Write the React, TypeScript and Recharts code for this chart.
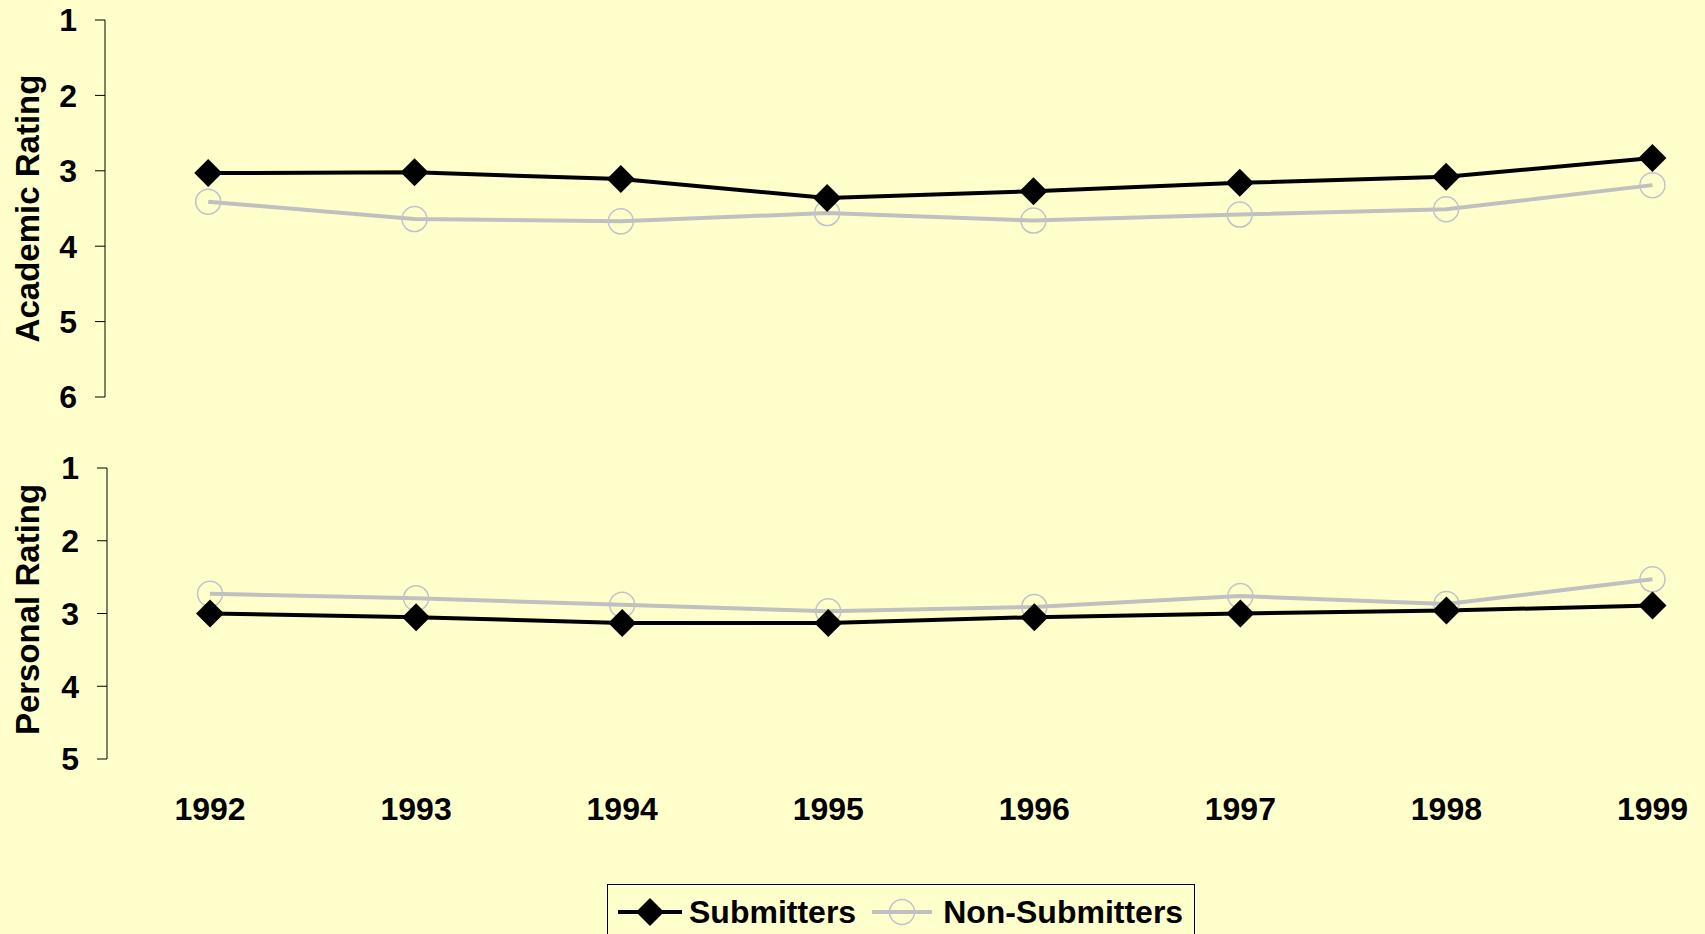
import React from 'react';
import { LineChart, Line, XAxis, YAxis, Legend, Label } from 'recharts';

const years = [1992, 1993, 1994, 1995, 1996, 1997, 1998, 1999];
const academicSubmitters = [3.03, 3.02, 3.11, 3.36, 3.27, 3.16, 3.08, 2.83];
const academicNonSubmitters = [3.41, 3.64, 3.67, 3.56, 3.66, 3.58, 3.51, 3.19];
const personalSubmitters = [3.0, 3.05, 3.13, 3.13, 3.05, 3.0, 2.96, 2.89];
const personalNonSubmitters = [2.73, 2.79, 2.88, 2.97, 2.91, 2.76, 2.87, 2.53];
const academicTicks = [1, 2, 3, 4, 5, 6];
const personalTicks = [1, 2, 3, 4, 5];
const seriesNames = ['Submitters', 'Non-Submitters'];

const academicData = years.map((year, i) => ({
  year,
  sub: academicSubmitters[i],
  non: academicNonSubmitters[i],
}));
const personalData = years.map((year, i) => ({
  year,
  sub: personalSubmitters[i],
  non: personalNonSubmitters[i],
}));

const BG = '#FFFFCC';
const FONT = '"Liberation Sans", Arial, sans-serif';
const GRAY = '#C0C0C0';
const RING = '#C0C2CC';
const tickStyle = { fontSize: 32, fontWeight: 700, fill: '#000', fontFamily: FONT };

const Diamond = (props: any) => {
  const { cx, cy, index } = props;
  if (cx == null || cy == null) return null;
  const r = 14;
  return (
    <polygon
      key={`d-${index}`}
      points={`${cx},${cy - r} ${cx + r},${cy} ${cx},${cy + r} ${cx - r},${cy}`}
      fill="#000"
    />
  );
};

const Ring = (props: any) => {
  const { cx, cy, index } = props;
  if (cx == null || cy == null) return null;
  return <circle key={`c-${index}`} cx={cx} cy={cy} r={12.5} fill="none" stroke={RING} strokeWidth={1.5} />;
};

const sideLabel = (text: string, shift: number) => (props: any) => {
  const vb = props.viewBox || {};
  const cy = vb.y + vb.height / 2 + shift;
  return (
    <text
      x={27}
      y={cy}
      transform={`rotate(-90, 27, ${cy})`}
      textAnchor="middle"
      dominantBaseline="central"
      style={{ fontSize: 33, fontWeight: 700, fill: '#000', fontFamily: FONT }}
    >
      {text}
    </text>
  );
};

const renderLegend = () => (
  <div
    style={{
      boxSizing: 'border-box',
      width: 588,
      height: 62,
      border: '1.5px solid #000',
      background: BG,
      display: 'flex',
      alignItems: 'flex-start',
      paddingTop: 8,
      paddingLeft: 8,
      fontFamily: FONT,
      fontWeight: 700,
      fontSize: 32,
      lineHeight: '38px',
      color: '#000',
    }}
  >
    <svg width={68} height={38} style={{ flex: 'none' }}>
      <line x1={2} y1={19} x2={66} y2={19} stroke="#000" strokeWidth={4} />
      <polygon points="34,5 48,19 34,33 20,19" fill="#000" />
    </svg>
    <span style={{ marginLeft: 5 }}>{seriesNames[0]}</span>
    <svg width={64} height={38} style={{ flex: 'none', marginLeft: 14 }}>
      <line x1={2} y1={19} x2={62} y2={19} stroke={GRAY} strokeWidth={4} />
      <circle cx={32} cy={19} r={12.5} fill="none" stroke={RING} strokeWidth={1.5} />
    </svg>
    <span style={{ marginLeft: 9 }}>{seriesNames[1]}</span>
  </div>
);

export default function App() {
  return (
    <div
      style={{
        position: 'absolute',
        left: 0,
        top: 0,
        width: 1705,
        height: 934,
        background: BG,
        overflow: 'hidden',
        fontFamily: FONT,
      }}
    >
      {/* Academic rating panel */}
      <div style={{ position: 'absolute', left: 0, top: 0 }}>
        <LineChart width={1705} height={430} data={academicData} margin={{ top: 20, right: 1, left: 0, bottom: 33 }}>
          <XAxis dataKey="year" type="number" domain={[1991.5, 1999.25]} ticks={years} hide />
          <YAxis
            type="number"
            reversed
            domain={[1, 6]}
            ticks={academicTicks}
            interval={0}
            width={105}
            tickSize={10}
            tickMargin={18}
            stroke="#000"
            tick={tickStyle}
          >
            <Label content={sideLabel('Academic Rating', 0)} />
          </YAxis>
          <Line dataKey="non" name={seriesNames[1]} stroke={GRAY} strokeWidth={4} dot={Ring} isAnimationActive={false} />
          <Line dataKey="sub" name={seriesNames[0]} stroke="#000" strokeWidth={4} dot={Diamond} isAnimationActive={false} />
        </LineChart>
      </div>

      {/* Personal rating panel */}
      <div style={{ position: 'absolute', left: 0, top: 430 }}>
        <LineChart width={1705} height={504} data={personalData} margin={{ top: 38, right: 1, left: 0, bottom: 53 }}>
          <XAxis
            dataKey="year"
            type="number"
            domain={[1991.5, 1999.25]}
            ticks={years}
            interval={0}
            axisLine={false}
            tickLine={false}
            tickSize={6}
            tickMargin={32}
            height={60}
            tick={tickStyle}
          />
          <YAxis
            type="number"
            reversed
            domain={[1, 5]}
            ticks={personalTicks}
            interval={0}
            width={107}
            tickSize={10}
            tickMargin={18}
            stroke="#000"
            tick={tickStyle}
          >
            <Label content={sideLabel('Personal Rating', -4)} />
          </YAxis>
          <Legend
            verticalAlign="bottom"
            content={renderLegend}
            wrapperStyle={{ position: 'absolute', left: 607, top: 454, width: 588, height: 62 }}
          />
          <Line dataKey="non" name={seriesNames[1]} stroke={GRAY} strokeWidth={4} dot={Ring} isAnimationActive={false} />
          <Line dataKey="sub" name={seriesNames[0]} stroke="#000" strokeWidth={4} dot={Diamond} isAnimationActive={false} />
        </LineChart>
      </div>
    </div>
  );
}
